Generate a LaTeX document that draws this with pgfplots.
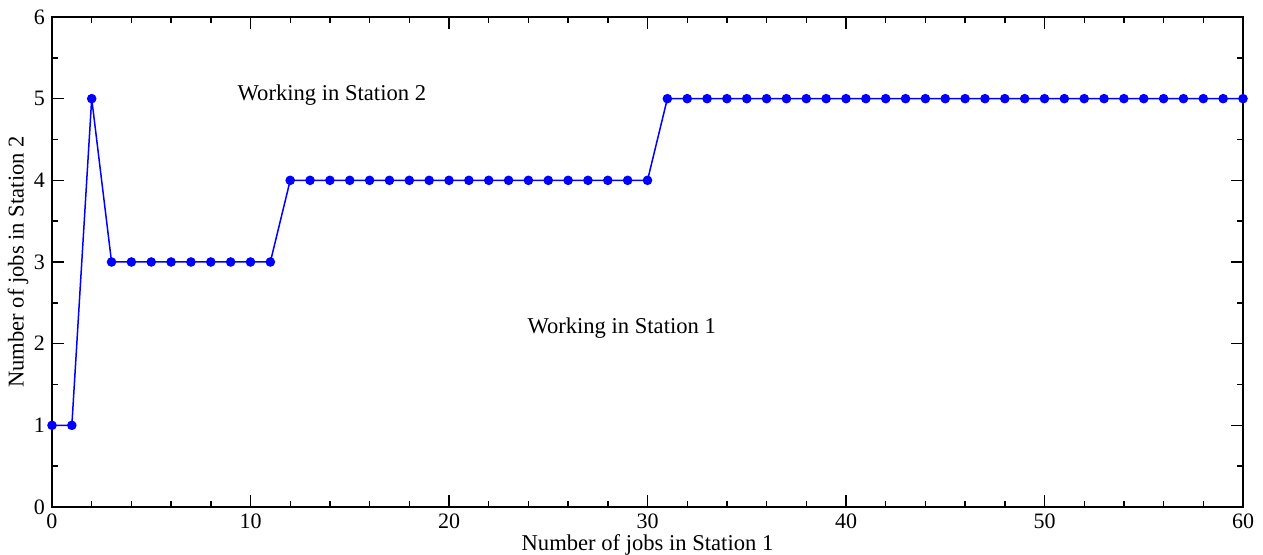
\documentclass[border=0pt]{standalone}
\usepackage{fontspec}
\setmainfont{Liberation Serif}
\usepackage{pgfplots}
\pgfplotsset{compat=1.18}
\begin{document}
\begin{tikzpicture}
\begin{axis}[
  scale only axis,
  width=595.5pt, height=245pt,
  xmin=0, xmax=60, ymin=0, ymax=6,
  xtick={0,10,20,30,40,50,60}, ytick={0,1,2,3,4,5,6},
  xticklabels={0,10,20,30,40,50,60},
  yticklabels={0,1,2,3,4,5,6},
  minor x tick num=4, minor y tick num=1,
  major tick length=6pt, minor tick length=3pt,
  axis line style={line width=1pt},
  every tick/.style={black, line width=0.7pt},
  tick label style={font=\rmfamily\fontsize{11}{13}\selectfont},
  label style={font=\fontsize{11.3}{13}\selectfont},
  xlabel={Number of jobs in Station 1},
  ylabel={Number of jobs in Station 2},
  xlabel style={at={(rel axis cs:0.5,0)}, anchor=center, yshift=-19pt},
  ylabel style={at={(rel axis cs:0,0.5)}, anchor=center, yshift=17pt},
  clip=false,
]
\addplot[blue, line width=0.75pt, mark=*, mark size=2pt, mark options={fill=blue, draw=blue}] coordinates {
(0,1) (1,1) (2,5) (3,3) (4,3) (5,3) (6,3) (7,3) (8,3) (9,3) (10,3) (11,3)
(12,4) (13,4) (14,4) (15,4) (16,4) (17,4) (18,4) (19,4) (20,4) (21,4) (22,4) (23,4) (24,4) (25,4) (26,4) (27,4) (28,4) (29,4) (30,4)
(31,5) (32,5) (33,5) (34,5) (35,5) (36,5) (37,5) (38,5) (39,5) (40,5) (41,5) (42,5) (43,5) (44,5) (45,5) (46,5) (47,5) (48,5) (49,5) (50,5)
(51,5) (52,5) (53,5) (54,5) (55,5) (56,5) (57,5) (58,5) (59,5) (60,5)
};
\node[font=\fontsize{11.3}{13}\selectfont] at (axis cs:14.1,5.04) {Working in Station 2};
\node[font=\fontsize{11.3}{13}\selectfont] at (axis cs:28.7,2.19) {Working in Station 1};
\end{axis}
\pgfresetboundingbox
\path ([xshift=-26pt,yshift=-24pt]current axis.south west) rectangle ([xshift=10pt,yshift=8.5pt]current axis.north east);
\end{tikzpicture}
\end{document}
